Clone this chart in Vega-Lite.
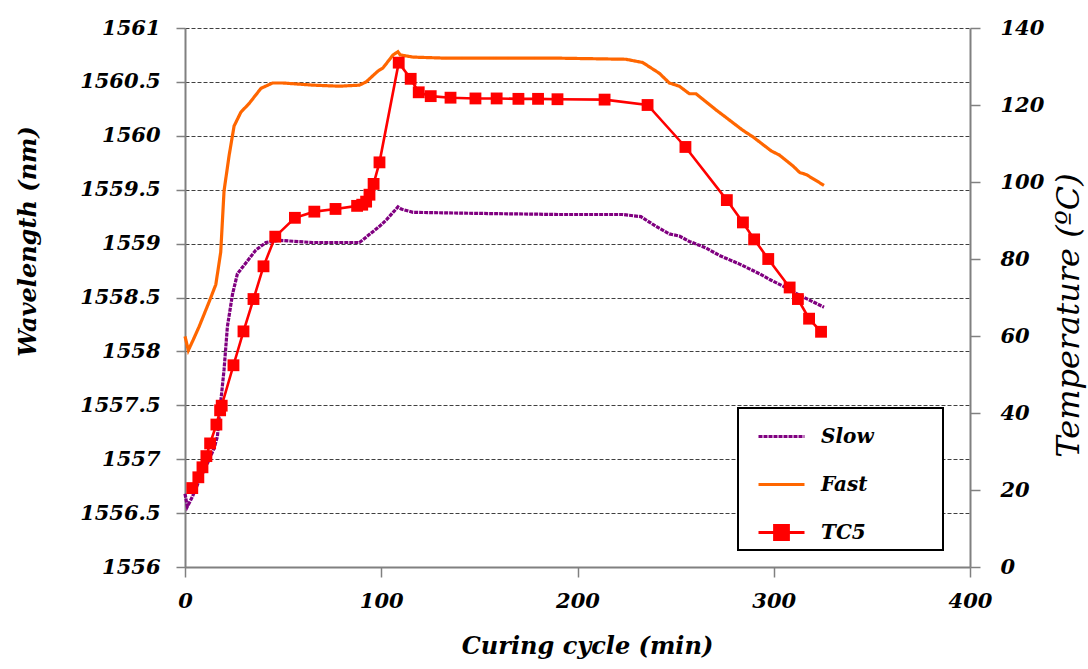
{
  "$schema": "https://vega.github.io/schema/vega-lite/v6.json",
  "width": 785,
  "height": 539,
  "autosize": {"type": "none"},
  "padding": {"left": 185, "top": 28, "right": 118, "bottom": 102},
  "background": "white",
  "config": {
    "view": {"stroke": null},
    "axis": {
      "labelFont": "DejaVu Serif",
      "labelFontStyle": "italic",
      "labelFontWeight": "bold",
      "labelFontSize": 21,
      "labelColor": "black",
      "labelFlush": false,
      "labelOverlap": false,
      "titleFont": "DejaVu Serif",
      "titleFontStyle": "italic",
      "titleFontWeight": "bold",
      "titleFontSize": 24,
      "titleColor": "black",
      "domainColor": "#808080",
      "domainWidth": 2,
      "tickColor": "#808080",
      "tickWidth": 1.5
    }
  },
  "datasets": {
    "wave": [
      {"series": "Fast", "t": 0, "wl": 1558.14},
      {"series": "Fast", "t": 1.7, "wl": 1558.01},
      {"series": "Fast", "t": 4, "wl": 1558.1},
      {"series": "Fast", "t": 7.2, "wl": 1558.23},
      {"series": "Fast", "t": 12.3, "wl": 1558.46},
      {"series": "Fast", "t": 15.7, "wl": 1558.62},
      {"series": "Fast", "t": 18.2, "wl": 1558.92},
      {"series": "Fast", "t": 19.9, "wl": 1559.49},
      {"series": "Fast", "t": 22.5, "wl": 1559.82},
      {"series": "Fast", "t": 25, "wl": 1560.09},
      {"series": "Fast", "t": 28.5, "wl": 1560.22},
      {"series": "Fast", "t": 32.7, "wl": 1560.3},
      {"series": "Fast", "t": 38.7, "wl": 1560.44},
      {"series": "Fast", "t": 44.6, "wl": 1560.49},
      {"series": "Fast", "t": 49.7, "wl": 1560.49},
      {"series": "Fast", "t": 65, "wl": 1560.47},
      {"series": "Fast", "t": 78.7, "wl": 1560.46},
      {"series": "Fast", "t": 88.9, "wl": 1560.47},
      {"series": "Fast", "t": 92.3, "wl": 1560.5},
      {"series": "Fast", "t": 98.3, "wl": 1560.6},
      {"series": "Fast", "t": 100.9, "wl": 1560.63},
      {"series": "Fast", "t": 106, "wl": 1560.75},
      {"series": "Fast", "t": 108.5, "wl": 1560.78},
      {"series": "Fast", "t": 109.7, "wl": 1560.75},
      {"series": "Fast", "t": 116.2, "wl": 1560.73},
      {"series": "Fast", "t": 133.2, "wl": 1560.72},
      {"series": "Fast", "t": 150.3, "wl": 1560.72},
      {"series": "Fast", "t": 190.6, "wl": 1560.72},
      {"series": "Fast", "t": 224.7, "wl": 1560.71},
      {"series": "Fast", "t": 233.2, "wl": 1560.68},
      {"series": "Fast", "t": 241.7, "wl": 1560.58},
      {"series": "Fast", "t": 246.8, "wl": 1560.49},
      {"series": "Fast", "t": 251.9, "wl": 1560.46},
      {"series": "Fast", "t": 257, "wl": 1560.39},
      {"series": "Fast", "t": 260.4, "wl": 1560.39},
      {"series": "Fast", "t": 270.6, "wl": 1560.24},
      {"series": "Fast", "t": 275.7, "wl": 1560.17},
      {"series": "Fast", "t": 284.3, "wl": 1560.05},
      {"series": "Fast", "t": 289.4, "wl": 1559.99},
      {"series": "Fast", "t": 298.7, "wl": 1559.86},
      {"series": "Fast", "t": 303, "wl": 1559.82},
      {"series": "Fast", "t": 309.8, "wl": 1559.72},
      {"series": "Fast", "t": 313.2, "wl": 1559.66},
      {"series": "Fast", "t": 316.6, "wl": 1559.64},
      {"series": "Fast", "t": 325.6, "wl": 1559.54},
      {"series": "Slow", "t": 0, "wl": 1556.68},
      {"series": "Slow", "t": 1.2, "wl": 1556.56},
      {"series": "Slow", "t": 3.7, "wl": 1556.65},
      {"series": "Slow", "t": 7.2, "wl": 1556.8},
      {"series": "Slow", "t": 11.4, "wl": 1556.96},
      {"series": "Slow", "t": 14.8, "wl": 1557.1},
      {"series": "Slow", "t": 16.5, "wl": 1557.21},
      {"series": "Slow", "t": 18.2, "wl": 1557.53},
      {"series": "Slow", "t": 19.9, "wl": 1557.83},
      {"series": "Slow", "t": 21.6, "wl": 1558.23},
      {"series": "Slow", "t": 24.2, "wl": 1558.53},
      {"series": "Slow", "t": 26.7, "wl": 1558.72},
      {"series": "Slow", "t": 31, "wl": 1558.82},
      {"series": "Slow", "t": 36.1, "wl": 1558.94},
      {"series": "Slow", "t": 41.2, "wl": 1559.01},
      {"series": "Slow", "t": 48, "wl": 1559.03},
      {"series": "Slow", "t": 65.1, "wl": 1559.01},
      {"series": "Slow", "t": 88.9, "wl": 1559.01},
      {"series": "Slow", "t": 92.3, "wl": 1559.06},
      {"series": "Slow", "t": 99.1, "wl": 1559.16},
      {"series": "Slow", "t": 102.6, "wl": 1559.22},
      {"series": "Slow", "t": 108.5, "wl": 1559.34},
      {"series": "Slow", "t": 110.2, "wl": 1559.32},
      {"series": "Slow", "t": 116.2, "wl": 1559.29},
      {"series": "Slow", "t": 150.3, "wl": 1559.28},
      {"series": "Slow", "t": 190.6, "wl": 1559.27},
      {"series": "Slow", "t": 223, "wl": 1559.27},
      {"series": "Slow", "t": 232.3, "wl": 1559.25},
      {"series": "Slow", "t": 240, "wl": 1559.16},
      {"series": "Slow", "t": 246.8, "wl": 1559.09},
      {"series": "Slow", "t": 251.9, "wl": 1559.07},
      {"series": "Slow", "t": 257, "wl": 1559.02},
      {"series": "Slow", "t": 265.5, "wl": 1558.96},
      {"series": "Slow", "t": 272.3, "wl": 1558.89},
      {"series": "Slow", "t": 282.6, "wl": 1558.81},
      {"series": "Slow", "t": 292.8, "wl": 1558.72},
      {"series": "Slow", "t": 298.7, "wl": 1558.66},
      {"series": "Slow", "t": 306.4, "wl": 1558.59},
      {"series": "Slow", "t": 313.2, "wl": 1558.52},
      {"series": "Slow", "t": 320, "wl": 1558.46},
      {"series": "Slow", "t": 325.6, "wl": 1558.41}
    ],
    "tc5": [
      {"series": "TC5", "t": 3.7, "temp": 20.5},
      {"series": "TC5", "t": 6.8, "temp": 23.3},
      {"series": "TC5", "t": 8.9, "temp": 25.9},
      {"series": "TC5", "t": 10.9, "temp": 28.8},
      {"series": "TC5", "t": 12.8, "temp": 32.1},
      {"series": "TC5", "t": 16, "temp": 37},
      {"series": "TC5", "t": 17.9, "temp": 40.7},
      {"series": "TC5", "t": 18.7, "temp": 41.9},
      {"series": "TC5", "t": 24.7, "temp": 52.4},
      {"series": "TC5", "t": 29.8, "temp": 61.2},
      {"series": "TC5", "t": 34.9, "temp": 69.6},
      {"series": "TC5", "t": 40, "temp": 78.1},
      {"series": "TC5", "t": 46, "temp": 85.8},
      {"series": "TC5", "t": 56, "temp": 90.7},
      {"series": "TC5", "t": 65.9, "temp": 92.3},
      {"series": "TC5", "t": 76.7, "temp": 93},
      {"series": "TC5", "t": 87.7, "temp": 93.8},
      {"series": "TC5", "t": 90.3, "temp": 94.1},
      {"series": "TC5", "t": 92.3, "temp": 94.9},
      {"series": "TC5", "t": 94, "temp": 96.7},
      {"series": "TC5", "t": 96.1, "temp": 99.5},
      {"series": "TC5", "t": 99.1, "temp": 105.1},
      {"series": "TC5", "t": 108.9, "temp": 131},
      {"series": "TC5", "t": 115, "temp": 126.8},
      {"series": "TC5", "t": 119.1, "temp": 123.3},
      {"series": "TC5", "t": 125.2, "temp": 122.3},
      {"series": "TC5", "t": 135.3, "temp": 121.9},
      {"series": "TC5", "t": 148, "temp": 121.7},
      {"series": "TC5", "t": 158.8, "temp": 121.7},
      {"series": "TC5", "t": 169.9, "temp": 121.6},
      {"series": "TC5", "t": 179.9, "temp": 121.6},
      {"series": "TC5", "t": 189.8, "temp": 121.5},
      {"series": "TC5", "t": 213.8, "temp": 121.4},
      {"series": "TC5", "t": 235.7, "temp": 120},
      {"series": "TC5", "t": 255, "temp": 109.1},
      {"series": "TC5", "t": 276.1, "temp": 95.3},
      {"series": "TC5", "t": 284.3, "temp": 89.5},
      {"series": "TC5", "t": 290, "temp": 85.1},
      {"series": "TC5", "t": 297.2, "temp": 80},
      {"series": "TC5", "t": 308.1, "temp": 72.6},
      {"series": "TC5", "t": 312.3, "temp": 69.6},
      {"series": "TC5", "t": 318, "temp": 64.5},
      {"series": "TC5", "t": 324.1, "temp": 61.1}
    ]
  },
  "layer": [
    {
      "data": {"name": "wave"},
      "mark": {"type": "line", "strokeWidth": 3.2},
      "encoding": {
        "x": {
          "field": "t",
          "type": "quantitative",
          "scale": {"domain": [0, 400]},
          "axis": {
            "values": [0, 100, 200, 300, 400],
            "grid": false,
            "tickSize": 10,
            "labelPadding": 13,
            "title": "Curing cycle (min)",
            "titleX": 402,
            "titleY": 86,
            "titleBaseline": "alphabetic",
            "titleAlign": "center"
          }
        },
        "y": {
          "field": "wl",
          "type": "quantitative",
          "scale": {"domain": [1556, 1561], "zero": false, "nice": false},
          "axis": {
            "values": [1556, 1556.5, 1557, 1557.5, 1558, 1558.5, 1559, 1559.5, 1560, 1560.5, 1561],
            "format": "~g",
            "grid": true,
            "gridColor": "#404040",
            "gridDash": [4, 2],
            "gridWidth": 1,
            "tickSize": 9,
            "labelPadding": 16,
            "title": "Wavelength (nm)",
            "titleAngle": 270,
            "titleX": -150,
            "titleY": 213,
            "titleBaseline": "alphabetic",
            "titleAlign": "center"
          }
        },
        "color": {
          "field": "series",
          "type": "nominal",
          "scale": {"domain": ["Slow", "Fast", "TC5"], "range": ["#800080", "#FF6600", "#FF0000"]},
          "legend": {
            "title": null,
            "orient": "none",
            "legendX": 553,
            "legendY": 380,
            "direction": "vertical",
            "strokeColor": "black",
            "fillColor": "white",
            "padding": 4,
            "symbolType": "stroke",
            "symbolSize": 2116,
            "symbolStrokeWidth": 3,
            "symbolOffset": 15,
            "rowPadding": 13,
            "labelOffset": 15,
            "labelFont": "DejaVu Serif",
            "labelFontStyle": "italic",
            "labelFontWeight": "bold",
            "labelFontSize": 20,
            "labelColor": "black",
            "labelLimit": 400,
            "encode": {
              "legend": {"update": {"strokeWidth": {"value": 2}}},
              "symbols": {
                "update": {
                  "shape": {"signal": "datum.value === 'TC5' ? 'M-1,0H1M-0.3,-0.3H0.3V0.3H-0.3ZM6.55,0' : 'M-1,0H1M6.55,0'"},
                  "fill": {"signal": "datum.value === 'TC5' ? '#FF0000' : 'transparent'"},
                  "strokeDash": {"signal": "datum.value === 'Slow' ? [3, 2] : [1, 0]"},
                  "strokeWidth": {"value": 3}
                }
              }
            }
          }
        },
        "strokeDash": {
          "field": "series",
          "type": "nominal",
          "scale": {"domain": ["Slow", "Fast", "TC5"], "range": [[4, 1], [1, 0], [1, 0]]},
          "legend": null
        }
      }
    },
    {
      "data": {"name": "tc5"},
      "mark": {"type": "line", "strokeWidth": 2.6, "point": {"shape": "square", "size": 140, "filled": true, "opacity": 1}},
      "encoding": {
        "x": {"field": "t", "type": "quantitative"},
        "y": {
          "field": "temp",
          "type": "quantitative",
          "scale": {"domain": [0, 140], "nice": false},
          "axis": {
            "orient": "right",
            "values": [0, 20, 40, 60, 80, 100, 120, 140],
            "grid": false,
            "tickSize": 10,
            "labelPadding": 20,
            "title": "Temperature (ºC)",
            "titleFont": "DejaVu Serif",
            "titleFontWeight": "normal",
            "titleFontStyle": "italic",
            "titleFontSize": 32,
            "titleAngle": 270,
            "titleX": 108,
            "titleY": 287,
            "titleBaseline": "alphabetic",
            "titleAlign": "center"
          }
        },
        "color": {"field": "series", "type": "nominal"}
      }
    }
  ],
  "resolve": {"scale": {"y": "independent"}}
}
